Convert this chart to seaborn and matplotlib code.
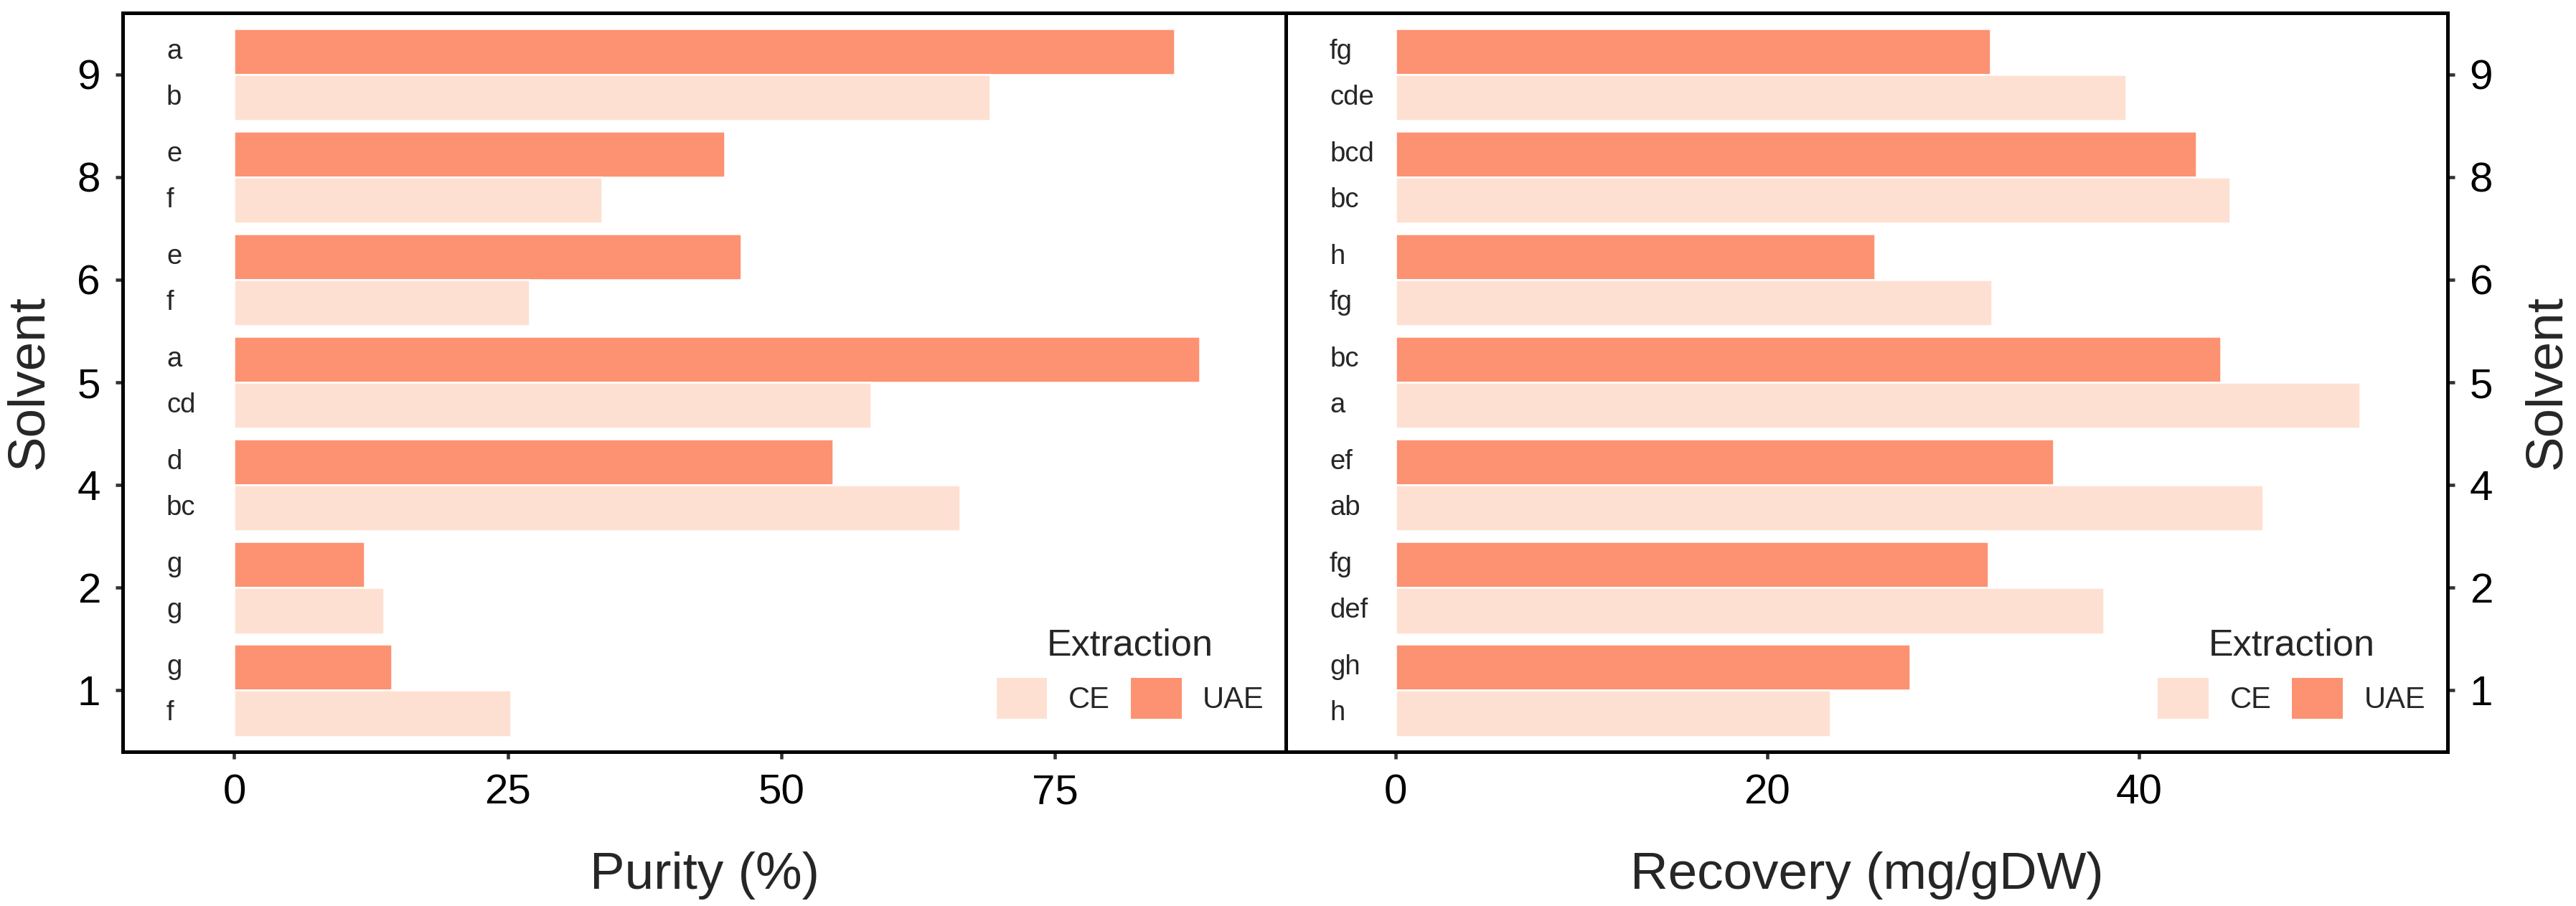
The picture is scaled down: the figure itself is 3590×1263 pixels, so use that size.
import matplotlib
matplotlib.use('Agg')
import matplotlib.pyplot as plt
from matplotlib.patches import Patch
import seaborn as sns
import pandas as pd

# data (solvent 1..9, two extraction methods)
solvents = ['1', '2', '4', '5', '6', '8', '9']
purity_ce = [25.3, 13.7, 66.3, 58.2, 27.0, 33.6, 69.1]
purity_uae = [14.4, 11.9, 54.7, 88.2, 46.3, 44.8, 85.9]
recovery_ce = [23.4, 38.1, 46.7, 51.9, 32.1, 44.9, 39.3]
recovery_uae = [27.7, 31.9, 35.4, 44.4, 25.8, 43.1, 32.0]
purity_letters_ce = ['f', 'g', 'bc', 'cd', 'f', 'f', 'b']
purity_letters_uae = ['g', 'g', 'd', 'a', 'e', 'e', 'a']
recovery_letters_ce = ['h', 'def', 'ab', 'a', 'fg', 'bc', 'cde']
recovery_letters_uae = ['gh', 'fg', 'ef', 'bc', 'h', 'bcd', 'fg']

light = '#FEE0D2'
dark = '#FC9272'

sns.set_style('white')
plt.rcParams['font.family'] = ['Liberation Sans', 'DejaVu Sans']

df = pd.DataFrame({
    'Solvent': solvents * 2,
    'Extraction': ['CE'] * len(solvents) + ['UAE'] * len(solvents),
    'Purity': purity_ce + purity_uae,
    'Recovery': recovery_ce + recovery_uae,
    'PurityLetter': purity_letters_ce + purity_letters_uae,
    'RecoveryLetter': recovery_letters_ce + recovery_letters_uae,
})

order = solvents[::-1]
hue_order = ['UAE', 'CE']

fig = plt.figure(figsize=(3590 / 300, 1263 / 300), dpi=300)
ax1 = fig.add_axes([0.0476, 0.1702, 0.4516, 0.8155])
ax2 = fig.add_axes([0.4992, 0.1702, 0.4509, 0.8155])


def draw_panel(ax, col, letter_col, xlim, xticks, xlabel, letter_x):
    sns.barplot(data=df, y='Solvent', x=col, hue='Extraction', order=order,
                hue_order=hue_order, palette={'CE': light, 'UAE': dark},
                saturation=1, width=0.9, edgecolor='white', linewidth=0.6,
                errorbar=None, orient='h', legend=False, ax=ax)
    lookup = {(r.Solvent, r.Extraction): getattr(r, letter_col) for r in df.itertuples()}
    for cont, hue in zip(ax.containers, hue_order):
        for bar in cont:
            yc = bar.get_y() + bar.get_height() / 2
            s = order[int(round(yc))]
            ax.text(letter_x, yc, lookup[(s, hue)], ha='left', va='center', fontsize=9.2)
    ax.set_xlim(*xlim)
    ax.set_ylim(len(order) - 0.4, -0.6)
    ax.set_xticks(xticks)
    ax.set_xlabel(xlabel, fontsize=17.5, labelpad=13)
    ax.set_ylabel('Solvent', fontsize=17.5, labelpad=8)
    for sp in ax.spines.values():
        sp.set_visible(True)
        sp.set_color('black')
        sp.set_linewidth(1.2)
    ax.tick_params(axis='both', direction='out', length=2.4, width=1.1,
                   color='#333333', labelsize=14, pad=5, labelcolor='black',
                   bottom=True, left=True)
    handles = [Patch(facecolor=light, edgecolor='none'), Patch(facecolor=dark, edgecolor='none')]
    ax.legend(handles, ['CE', 'UAE'], title='Extraction', ncol=2, frameon=False,
              loc='lower right', bbox_to_anchor=(0.981, 0.045), borderpad=0,
              borderaxespad=0, fontsize=10, title_fontsize=12.5,
              handlelength=1.7, handleheight=1.7, handletextpad=0.7,
              columnspacing=0.7)


draw_panel(ax1, 'Purity', 'PurityLetter', (-10.2, 96.1), [0, 25, 50, 75], 'Purity (%)', -6.2)
draw_panel(ax2, 'Recovery', 'RecoveryLetter', (-5.9, 56.6), [0, 20, 40], 'Recovery (mg/gDW)', -3.55)

ax2.yaxis.tick_right()
ax2.tick_params(axis='y', left=False, right=True)
ax2.yaxis.set_label_position('right')
ax2.set_ylabel('Solvent', fontsize=17.5, labelpad=10, rotation=90)

fig.savefig('out.png', dpi=300)
